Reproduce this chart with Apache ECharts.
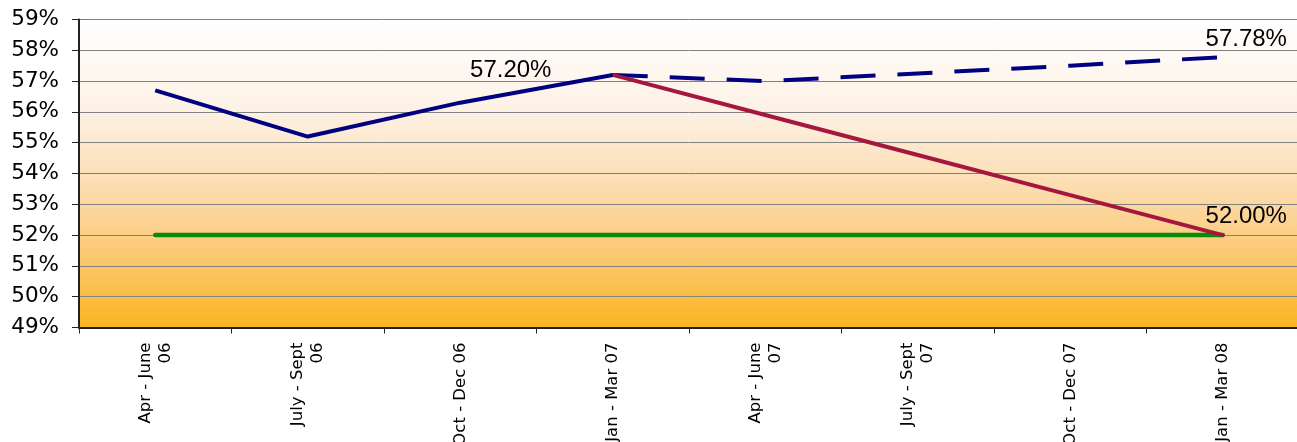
<!DOCTYPE html>
<html>
<head>
<meta charset="utf-8">
<script src="https://cdn.jsdelivr.net/npm/echarts@6/dist/echarts.min.js"></script>
<style>
  html, body { margin: 0; padding: 0; background: #ffffff; }
  #chart { width: 1297px; height: 442px; }
</style>
</head>
<body>
<div id="chart"></div>
<script>
// Quarter labels along the x axis
const quarters = [
  'Apr - June\n06', 'July - Sept\n06', 'Oct - Dec 06', 'Jan - Mar 07',
  'Apr - June\n07', 'July - Sept\n07', 'Oct - Dec 07', 'Jan - Mar 08'
];

// Actual share per quarter (%)
const actual = [56.7, 55.2, 56.3, 57.2, null, null, null, null];
// Projected trend continuing from the last actual quarter (%)
const projected = [null, null, null, 57.2, 57.0, 57.25, 57.5, 57.78];
// Declining path down to the target (%)
const decline = [null, null, null, 57.2, 55.9, 54.6, 53.3, 52.0];
// Target level (%)
const target = [52, 52, 52, 52, 52, 52, 52, 52];

// Value axis range and step (%)
const yMin = 49, yMax = 59, yStep = 1;

const labelFont = { fontFamily: 'Liberation Sans', fontSize: 24, color: '#000000' };

function withLabel(arr, idx, position) {
  return arr.map((v, i) => i === idx ? {
    value: v,
    label: Object.assign({
      show: true,
      position: position,
      align: 'center',
      verticalAlign: 'middle',
      formatter: p => p.value.toFixed(2) + '%'
    }, labelFont)
  } : v);
}

const chart = echarts.init(document.getElementById('chart'), null, { renderer: 'canvas' });

chart.setOption({
  animation: false,
  grid: {
    left: 79, right: -2, top: 19.5, bottom: 114.5,
    outerBoundsMode: 'none',
    containLabel: false,
    show: true,
    borderWidth: 0,
    backgroundColor: new echarts.graphic.LinearGradient(0, 0, 0, 1, [
      { offset: 0, color: '#ffffff' },
      { offset: 0.3, color: '#fdf1e4' },
      { offset: 0.55, color: '#fcdcae' },
      { offset: 0.75, color: '#fbca78' },
      { offset: 1, color: '#fab520' }
    ])
  },
  xAxis: {
    type: 'category',
    data: quarters,
    boundaryGap: true,
    axisLine: { lineStyle: { color: '#222222', width: 2 } },
    axisTick: { show: true, length: 6, lineStyle: { color: '#222222', width: 1 } },
    axisLabel: {
      rotate: 90,
      margin: 15,
      interval: 0,
      fontFamily: 'DejaVu Sans',
      fontSize: 16.5,
      lineHeight: 20,
      color: '#000000'
    },
    splitLine: { show: false }
  },
  yAxis: {
    type: 'value',
    min: yMin, max: yMax, interval: yStep,
    axisLine: { show: true, lineStyle: { color: '#222222', width: 2 } },
    axisTick: { show: true, length: 7, lineStyle: { color: '#222222', width: 1 } },
    axisLabel: {
      margin: 20,
      formatter: '{value}%',
      fontFamily: 'DejaVu Sans',
      fontSize: 21.5,
      color: '#000000'
    },
    splitLine: { show: true, lineStyle: { color: '#808080', width: 1 } }
  },
  series: [
    {
      name: 'Target',
      type: 'line',
      data: target,
      symbol: 'none',
      lineStyle: { color: '#0a8a0a', width: 4.5, cap: 'round' },
      z: 2
    },
    {
      name: 'Projected',
      type: 'line',
      data: withLabel(projected, 7, [23.5, -18]),
      symbol: 'circle',
      symbolSize: 0,
      showSymbol: true,
      itemStyle: { color: '#000080', borderWidth: 0 },
      lineStyle: { color: '#000080', width: 4, type: [35, 22] },
      z: 3
    },
    {
      name: 'Decline',
      type: 'line',
      data: withLabel(decline, 7, [23.5, -18.5]),
      symbol: 'circle',
      symbolSize: 0,
      showSymbol: true,
      itemStyle: { color: '#a5173f', borderWidth: 0 },
      lineStyle: { color: '#a5173f', width: 4, cap: 'round' },
      z: 4
    },
    {
      name: 'Actual',
      type: 'line',
      data: withLabel(actual, 3, [-102, -5]),
      symbol: 'circle',
      symbolSize: 0,
      showSymbol: true,
      itemStyle: { color: '#000080', borderWidth: 0 },
      lineStyle: { color: '#000080', width: 4 },
      z: 5
    }
  ]
});
</script>
</body>
</html>
